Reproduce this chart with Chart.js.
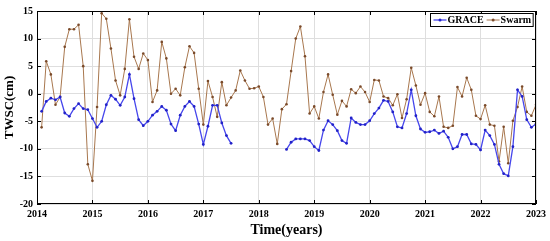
<!DOCTYPE html>
<html>
<head>
<meta charset="utf-8">
<script src="https://cdn.jsdelivr.net/npm/chart.js@4.4.1/dist/chart.umd.min.js"></script>
<style>
  html, body { margin: 0; padding: 0; background: #fff; }
  canvas { display: block; }
</style>
</head>
<body>
<canvas id="twsc-chart" width="550" height="241"></canvas>
<script>
// monthly TWSC (cm), Jan 2014 .. Dec 2022, null = no GRACE data
const startYear = 2014;
const yearTicks = [2014, 2015, 2016, 2017, 2018, 2019, 2020, 2021, 2022, 2023];

const graceTWSC = [
  -3.2, -1.4, -0.8, -1.1, -0.6, -3.5, -4.1, -2.7, -1.8, -2.7, -2.9, -4.5,
  -6.1, -5.0, -2.0, -0.3, -1.0, -2.1, -0.6, 3.5, -0.9, -4.7, -5.8, -5.0,
  -3.9, -3.2, -2.3, -3.0, -5.5, -6.7, -3.9, -2.3, -1.4, -2.3, -5.5, -9.2,
  -5.9, -2.1, -2.1, -5.3, -7.6, -9.0, null, null, null, null, null, null,
  null, null, null, null, null, -10.1, -8.8, -8.2, -8.2, -8.2, -8.5, -9.6,
  -10.3, -6.6, -4.9, -5.6, -6.7, -8.5, -9.0, -4.4, -5.2, -5.6, -5.6, -4.9,
  -3.6, -2.6, -1.2, -1.4, -3.3, -6.0, -6.2, -3.6, 0.7, -4.0, -6.4, -7.0,
  -6.9, -6.6, -7.2, -6.8, -7.9, -10.0, -9.6, -7.4, -7.4, -9.1, -9.2, -10.2,
  -6.6, -7.6, -9.2, -12.8, -14.5, -14.9, -9.6, 0.7, -0.5, -4.7, -6.1, -5.5
];

const swarmTWSC = [
  -6.1, 5.9, 3.5, -2.0, -0.6, 8.5, 11.7, 11.7, 12.5, 5.0, -12.8, -15.8,
  -2.4, 14.6, 13.6, 8.2, 2.4, -0.3, 4.5, 13.5, 6.7, 4.5, 7.3, 6.1,
  -1.5, 0.6, 9.4, 6.4, 0.0, 0.9, -0.3, 4.8, 8.6, 7.4, 0.9, -5.6,
  2.3, -0.6, -4.2, 2.1, -2.1, -0.7, 0.6, 4.2, 2.4, 0.9, 1.0, 1.3,
  -0.6, -5.6, -4.5, -9.1, -2.8, -1.9, 4.1, 10.0, 12.2, 6.8, -3.6, -2.3,
  -4.5, 0.3, 3.5, -0.2, -3.8, -1.3, -2.3, 0.8, 0.1, 1.3, 0.3, -1.5,
  2.5, 2.4, -0.5, -0.8, -2.1, -0.1, -4.4, -1.0, 4.7, 1.5, -2.0, 0.1,
  -3.3, -4.1, -0.5, -6.0, -6.2, -5.8, 1.2, -0.5, 2.9, 0.7, -4.0, -4.6,
  -2.1, -5.6, -5.8, -12.3, -6.0, -12.6, -4.9, -2.4, 1.3, -3.3, -4.0, -2.0
];

const toPoints = arr => arr.map((v, i) => ({ x: startYear + (i + 1) / 12, y: v }));

const serif = '"Liberation Serif", "Times New Roman", serif';

// black box round the plot with inward ticks (matlab look)
const frameTicks = {
  id: 'frameTicks',
  afterDatasetsDraw(chart) {
    const { ctx, chartArea: a, scales: { x, y } } = chart;
    ctx.save();
    ctx.strokeStyle = '#000';
    ctx.lineWidth = 1;
    ctx.beginPath();
    x.ticks.forEach(t => {
      const px = Math.round(x.getPixelForValue(t.value)) + 0.5;
      ctx.moveTo(px, a.bottom); ctx.lineTo(px, a.bottom - 4);
      ctx.moveTo(px, a.top); ctx.lineTo(px, a.top + 4);
    });
    y.ticks.forEach(t => {
      const py = Math.round(y.getPixelForValue(t.value)) + 0.5;
      ctx.moveTo(a.left, py); ctx.lineTo(a.left + 4, py);
      ctx.moveTo(a.right, py); ctx.lineTo(a.right - 4, py);
    });
    ctx.stroke();
    ctx.strokeRect(Math.round(a.left) + 0.5, Math.round(a.top) + 0.5,
      Math.round(a.right - a.left) - 1, Math.round(a.bottom - a.top) - 1);
    ctx.restore();
  }
};

// legend box in the top right corner of the plot
const cornerLegend = {
  id: 'cornerLegend',
  afterDraw(chart) {
    const { ctx, chartArea: a } = chart;
    const sets = chart.data.datasets;
    ctx.save();
    ctx.font = 'bold 10px ' + serif;
    const widths = sets.map(d => ctx.measureText(d.label).width);
    const boxW = 3 + widths.reduce((s, w) => s + 14 + w, 0) + 3 * (sets.length - 1) + 2;
    const boxH = 13;
    const bx = Math.round(a.right - 3 - boxW) + 0.5;
    const by = Math.round(a.top + 2) + 0.5;
    ctx.fillStyle = '#fff';
    ctx.fillRect(bx, by, boxW, boxH);
    ctx.strokeStyle = '#000';
    ctx.lineWidth = 1;
    ctx.strokeRect(bx, by, boxW, boxH);
    let cx = bx + 3;
    const cy = by + boxH / 2;
    sets.forEach((d, i) => {
      ctx.strokeStyle = d.borderColor;
      ctx.lineWidth = d.borderWidth;
      ctx.beginPath();
      ctx.moveTo(cx, cy); ctx.lineTo(cx + 13, cy);
      ctx.stroke();
      ctx.fillStyle = d.pointBackgroundColor;
      ctx.beginPath();
      ctx.arc(cx + 6.5, cy, 1.5, 0, Math.PI * 2);
      ctx.fill();
      ctx.fillStyle = '#000';
      ctx.textBaseline = 'middle';
      ctx.fillText(d.label, cx + 14, cy + 0.5);
      cx += 14 + widths[i] + 3;
    });
    ctx.restore();
  }
};

new Chart(document.getElementById('twsc-chart'), {
  type: 'line',
  data: {
    datasets: [
      {
        label: 'GRACE',
        data: toPoints(graceTWSC),
        borderColor: '#4646ec',
        borderWidth: 1.3,
        pointRadius: 1.4,
        pointBorderWidth: 0,
        pointBackgroundColor: '#2222c8',
        spanGaps: false,
        tension: 0
      },
      {
        label: 'Swarm',
        data: toPoints(swarmTWSC),
        borderColor: '#a8774e',
        borderWidth: 1,
        pointRadius: 1.3,
        pointBorderWidth: 0,
        pointBackgroundColor: '#7a4a2a',
        tension: 0
      }
    ]
  },
  options: {
    responsive: false,
    devicePixelRatio: 1,
    animation: false,
    layout: { padding: { left: 0, right: 14, top: 11, bottom: 0 } },
    plugins: {
      legend: { display: false },
      tooltip: { enabled: false }
    },
    scales: {
      x: {
        type: 'linear',
        min: 2014,
        max: 2023,
        afterBuildTicks: s => { s.ticks = yearTicks.map(v => ({ value: v })); },
        afterFit: s => { s.height = 37; },
        ticks: {
          callback: v => String(v),
          color: '#000',
          font: { family: serif, size: 10, weight: 'bold' },
          padding: 4,
          maxRotation: 0,
          autoSkip: false
        },
        grid: { color: '#dedede', drawTicks: false },
        border: { display: false },
        title: {
          display: true,
          text: 'Time(years)',
          color: '#000',
          font: { family: serif, size: 14, weight: 'bold' },
          padding: { top: 0, bottom: 2 }
        }
      },
      y: {
        min: -20,
        max: 15,
        afterFit: s => { s.width = 37; },
        ticks: {
          stepSize: 5,
          color: '#000',
          font: { family: serif, size: 10, weight: 'bold' },
          padding: 4
        },
        grid: { color: '#dedede', drawTicks: false },
        border: { display: false },
        title: {
          display: true,
          text: 'TWSC(cm)',
          color: '#000',
          font: { family: serif, size: 13, weight: 'bold' },
          padding: { top: 2, bottom: 0 }
        }
      }
    }
  },
  plugins: [frameTicks, cornerLegend]
});
</script>
</body>
</html>
